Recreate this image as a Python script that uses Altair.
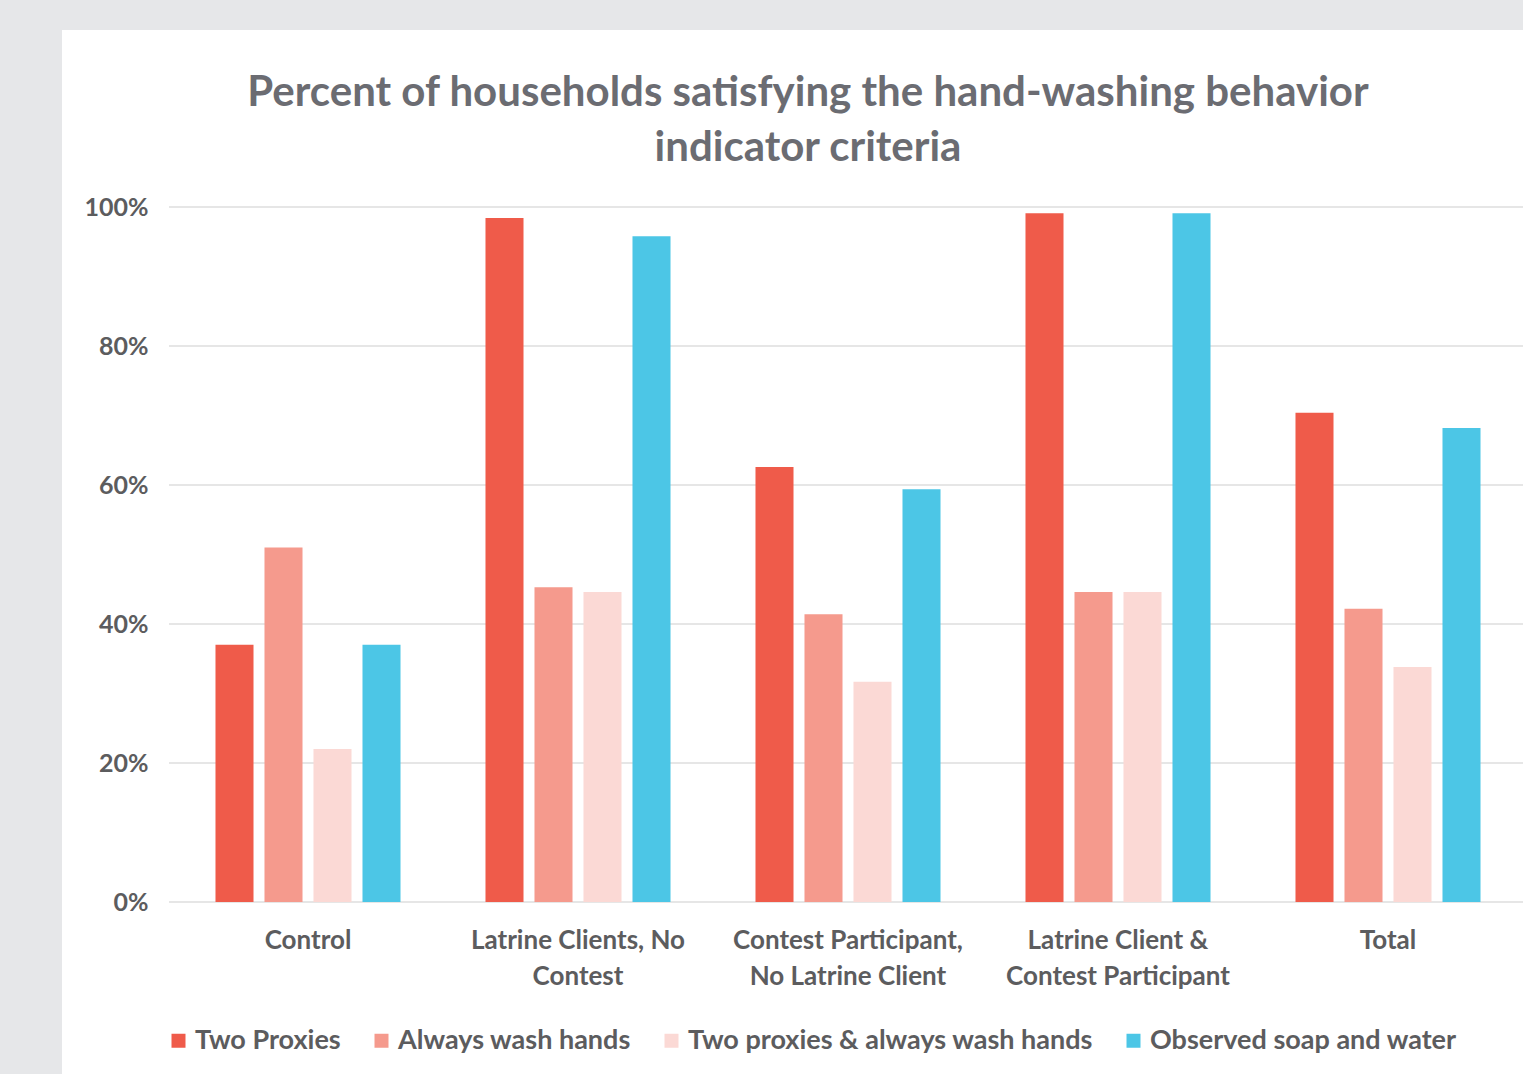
import altair as alt
import pandas as pd

categories = [
    "Control",
    "Latrine Clients, No Contest",
    "Contest Participant, No Latrine Client",
    "Latrine Client & Contest Participant",
    "Total",
]
label_lines = [
    ["Control"],
    ["Latrine Clients, No", "Contest"],
    ["Contest Participant,", "No Latrine Client"],
    ["Latrine Client &", "Contest Participant"],
    ["Total"],
]
series = [
    "Two Proxies",
    "Always wash hands",
    "Two proxies & always wash hands",
    "Observed soap and water",
]
colors = ["#ef5b4a", "#f59a8d", "#fbd9d5", "#4cc6e6"]

two_proxies = [37, 98.4, 62.6, 99.1, 70.4]
always_wash = [51, 45.3, 41.4, 44.6, 42.2]
two_and_always = [22, 44.6, 31.7, 44.6, 33.8]
observed = [37, 95.8, 59.4, 99.1, 68.2]

y_ticks = [0, 20, 40, 60, 80, 100]

rows = []
for s, vals in zip(series, [two_proxies, always_wash, two_and_always, observed]):
    for c, v in zip(categories, vals):
        rows.append({"category": c, "series": s, "value": v})
df = pd.DataFrame(rows)

W, H = 1350, 695
PAD_L, PAD_T = 173, 207
TOTAL_W, TOTAL_H = 1523, 1074
TEXT = "#5c5c5e"

# multi-line label expression
parts = []
for c, lines in zip(categories, label_lines):
    arr = "[" + ",".join("'" + l + "'" for l in lines) + "]"
    parts.append(f"datum.value == '{c}' ? {arr} : ")
label_expr = "".join(parts) + "datum.value"

panel = alt.Chart(pd.DataFrame({"a": [0]})).mark_rect(color="white").encode(
    x=alt.value(62 - PAD_L),
    x2=alt.value(TOTAL_W - PAD_L + 20),
    y=alt.value(30 - PAD_T),
    y2=alt.value(TOTAL_H - PAD_T + 20),
)

grid = alt.Chart(pd.DataFrame({"t": y_ticks})).mark_rule(
    color="#dedede", strokeWidth=1.5
).encode(
    y=alt.Y("t:Q", scale=alt.Scale(domain=[0, 100])),
    x=alt.value(-4),
    x2=alt.value(W + 10),
)

bars = alt.Chart(df).mark_bar().encode(
    x=alt.X(
        "category:N",
        sort=categories,
        scale=alt.Scale(paddingInner=0, paddingOuter=0),
        axis=alt.Axis(
            title=None,
            labelAngle=0,
            labelExpr=label_expr,
            labelFont="Lato",
            labelFontSize=26,
            labelFontWeight="bold",
            labelColor=TEXT,
            labelPadding=25,
            labelLineHeight=36,
            labelLimit=0,
            domain=False,
            ticks=False,
            labelBaseline="top",
            zindex=1,
        ),
    ),
    xOffset=alt.XOffset(
        "series:N",
        sort=series,
        scale=alt.Scale(paddingInner=0.224, paddingOuter=0.867),
    ),
    y=alt.Y(
        "value:Q",
        scale=alt.Scale(domain=[0, 100]),
        axis=alt.Axis(
            title=None,
            values=y_ticks,
            labelExpr="datum.value + '%'",
            labelFont="Lato",
            labelFontSize=25,
            labelFontWeight="bold",
            labelColor=TEXT,
            labelPadding=25,
            domain=False,
            ticks=False,
            grid=False,
            zindex=1,
        ),
    ),
    color=alt.Color(
        "series:N",
        sort=series,
        scale=alt.Scale(domain=series, range=colors),
        legend=alt.Legend(
            title=None,
            orient="none",
            legendX=-8,
            legendY=820,
            direction="horizontal",
            symbolType="square",
            symbolSize=196,
            symbolStrokeWidth=0,
            labelFont="Lato",
            labelFontSize=27,
            labelFontWeight="bold",
            labelColor=TEXT,
            labelOffset=3,
            labelLimit=0,
            columnPadding=27,
        ),
    ),
)

chart = alt.layer(panel, grid, bars).properties(
    width=W,
    height=H,
    padding={"left": PAD_L, "top": PAD_T, "right": 0, "bottom": TOTAL_H - PAD_T - H},
    autosize=alt.AutoSizeParams(type="none"),
    background="#e6e7e9",
    title=alt.TitleParams(
        ["Percent of households satisfying the hand-washing behavior", "indicator criteria"],
        font="Lato",
        fontSize=42,
        fontWeight="bold",
        color="#6b6c72",
        lineHeight=55,
        anchor="middle",
        dx=-40,
        offset=-140,
    ),
).configure_view(stroke=None)

chart.save("out.html", embed_options={"renderer": "svg", "actions": False})
